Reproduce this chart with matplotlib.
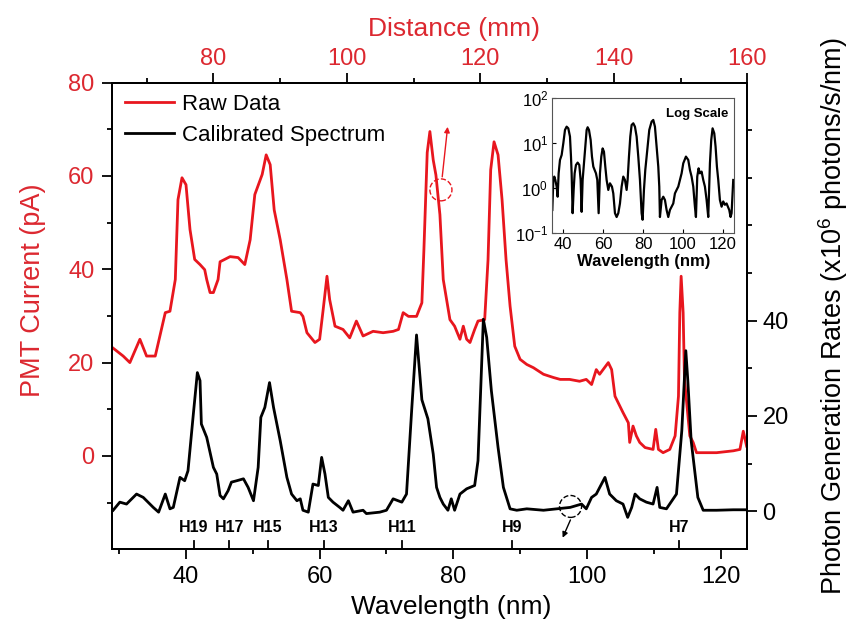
import matplotlib
matplotlib.use('Agg')
import matplotlib.pyplot as plt
from matplotlib.patches import Ellipse
from matplotlib.ticker import MultipleLocator, FixedLocator, NullLocator

plt.rcParams['font.family'] = ['Liberation Sans', 'DejaVu Sans']
plt.rcParams['mathtext.fontset'] = 'custom'
plt.rcParams['mathtext.rm'] = 'Liberation Sans'
plt.rcParams['mathtext.bf'] = 'Liberation Sans:bold'

# raw PMT current (pA) against wavelength (nm)
raw_wl = [29.0, 30.6, 31.6, 33.1, 34.1, 35.4, 36.9, 37.6, 38.4, 38.8, 39.4, 40.0,
          40.6, 41.3, 42.1, 42.8, 43.1, 43.6, 44.1, 44.8, 45.1, 46.6, 47.8, 48.8,
          49.6, 50.3, 51.4, 52.0, 52.6, 53.2, 54.1, 55.1, 55.8, 57.1, 57.5, 58.1,
          59.3, 60.0, 60.5, 61.1, 61.5, 62.3, 63.5, 64.5, 65.5, 66.5, 68.0, 69.5,
          71.0, 71.8, 72.5, 73.3, 74.5, 75.3, 75.6, 76.1, 76.5, 77.0, 77.4, 78.0,
          78.5, 79.5, 80.2, 81.0, 81.5, 82.0, 82.5, 83.2, 83.7, 84.7, 85.2, 85.6,
          86.1, 86.7, 87.3, 87.9, 88.5, 89.2, 90.0, 91.0, 92.0, 93.5, 95.0, 96.0,
          97.4, 98.9, 99.9, 100.7, 101.4, 101.9, 103.2, 103.7, 104.2, 105.4, 106.2, 106.4,
          106.9, 107.4, 107.9, 108.7, 109.9, 110.3, 110.7, 111.4, 112.4, 113.2, 113.7, 113.9,
          114.1, 114.4, 114.6, 115.4, 115.9, 116.4, 119.4, 121.9, 122.9, 123.4, 123.9]
raw_pa = [23.2, 21.4, 20.0, 25.0, 21.4, 21.4, 30.7, 31.0, 37.8, 54.9, 59.6, 58.1,
          48.5, 42.1, 41.0, 39.9, 37.8, 35.0, 35.0, 37.8, 41.6, 42.7, 42.5, 41.0,
          46.3, 56.0, 60.3, 64.5, 62.4, 52.7, 46.3, 37.8, 31.0, 30.7, 29.9, 26.4,
          24.3, 25.0, 31.0, 38.5, 33.5, 27.8, 27.1, 25.3, 28.9, 25.7, 26.7, 26.4,
          26.7, 27.1, 30.7, 29.9, 29.9, 32.8, 44.0, 65.0, 69.5, 63.4, 60.2, 51.7,
          37.8, 29.2, 27.8, 25.0, 27.8, 25.0, 24.3, 27.1, 28.9, 29.2, 42.0, 61.3,
          67.3, 64.5, 54.9, 42.0, 32.1, 23.5, 20.7, 19.6, 18.9, 17.5, 16.8, 16.4,
          16.4, 16.0, 16.4, 15.3, 18.5, 17.5, 20.0, 18.5, 12.8, 9.3, 7.1, 2.9,
          6.4, 4.3, 2.9, 1.8, 1.4, 5.7, 1.4, 0.7, 1.4, 4.3, 12.8, 30.7,
          38.5, 30.7, 16.4, 4.3, 2.9, 0.7, 0.7, 1.1, 1.4, 5.3, 2.1]

# calibrated photon generation rate (x10^6 photons/s/nm)
cal_wl = [29.1, 30.1, 31.1, 32.6, 33.6, 35.1, 35.9, 36.9, 37.6, 38.1, 39.1, 39.8,
          40.3, 41.1, 41.7, 42.1, 42.3, 43.1, 44.1, 44.6, 45.1, 45.6, 46.3, 46.8,
          47.6, 48.6, 49.3, 50.1, 50.8, 51.2, 51.8, 52.5, 53.1, 54.1, 55.1, 55.8,
          56.6, 57.1, 57.5, 58.3, 59.0, 59.8, 60.3, 60.8, 61.3, 62.0, 63.0, 63.5,
          64.3, 65.0, 66.5, 67.0, 69.0, 70.0, 71.0, 72.3, 73.0, 73.8, 74.5, 75.3,
          76.2, 77.0, 77.5, 78.0, 78.5, 79.2, 79.7, 80.2, 81.0, 82.0, 83.2, 83.7,
          84.5, 85.0, 85.7, 86.7, 87.5, 88.5, 89.5, 91.0, 93.5, 95.5, 97.5, 99.2,
          99.9, 100.7, 101.4, 102.7, 103.4, 104.4, 105.4, 106.1, 106.7, 107.2, 107.9, 108.9,
          109.9, 110.5, 110.9, 111.9, 113.4, 114.2, 114.8, 115.1, 115.6, 116.6, 117.4, 119.4,
          121.9, 123.9]
cal_rate = [0.2, 1.9, 1.5, 3.6, 2.9, 0.8, -0.2, 3.6, 0.5, 0.8, 7.1, 6.4,
            8.5, 20.4, 29.1, 27.4, 18.3, 15.5, 9.2, 7.8, 3.3, 2.6, 4.3, 6.1,
            6.4, 6.8, 5.0, 2.2, 9.2, 19.7, 21.8, 27.0, 21.8, 14.8, 7.1, 3.6,
            2.2, 2.6, 0.2, -0.2, 5.7, 5.4, 11.3, 7.8, 2.9, 1.9, 0.8, 0.2,
            2.2, -0.2, 0.2, -0.5, -0.2, 0.2, 2.6, 1.9, 3.6, 21.8, 37.0, 23.4,
            19.4, 12.0, 5.0, 2.9, 1.5, 0.2, 2.6, 0.2, 3.6, 4.7, 5.4, 10.6,
            40.3, 36.5, 25.3, 13.4, 5.0, 0.5, 0.2, 0.5, 0.2, 0.5, 0.8, 1.5,
            0.5, 2.9, 3.6, 7.1, 3.6, 2.2, 1.5, -1.3, 0.8, 3.6, 2.6, 1.9,
            1.5, 5.0, 0.8, 0.5, 3.6, 16.9, 33.7, 27.4, 14.8, 2.9, 0.2, 0.2,
            0.3, 0.3]

# same spectrum on a log scale (inset)
log_wl = [34.52, 35.02, 35.52, 36.02, 36.69, 37.19, 37.69, 38.36, 39.20, 40.03, 40.87, 41.70,
          42.53, 43.37, 43.87, 44.20, 44.70, 45.21, 45.71, 46.37, 47.21, 48.04, 48.71, 49.21,
          49.71, 50.38, 51.05, 51.72, 52.22, 52.89, 53.72, 54.39, 55.06, 55.72, 56.39, 57.06,
          57.73, 58.39, 59.06, 59.73, 60.40, 61.07, 61.73, 62.57, 63.40, 64.40, 65.07, 65.91,
          66.74, 67.58, 68.41, 69.25, 70.08, 70.92, 71.75, 72.25, 72.92, 73.59, 74.25, 75.09,
          75.92, 76.76, 77.59, 78.43, 79.26, 79.76, 80.43, 81.10, 81.77, 82.43, 83.10, 84.27,
          85.11, 85.94, 86.78, 87.61, 88.11, 88.44, 89.28, 90.11, 90.95, 91.78, 92.62, 93.45,
          94.29, 95.12, 95.96, 96.79, 97.63, 98.46, 99.30, 100.13, 101.47, 102.64, 103.47, 104.30,
          105.14, 105.97, 106.48, 107.14, 107.81, 108.48, 109.31, 110.15, 110.98, 111.82, 112.65, 113.49,
          114.15, 114.82, 115.66, 116.32, 116.99, 117.66, 118.49, 119.33, 120.16, 120.99, 121.83, 123.17,
          123.84, 124.34, 125.17]
log_rate = [0.33, 1.53, 1.82, 1.53, 1.09, 0.65, 2.15, 4.26, 5.5, 10.0, 19.8, 23.4,
            21.5, 14.1, 5.06, 2.15, 0.28, 0.92, 2.15, 3.30, 3.72, 3.30, 1.53, 0.30,
            1.53, 3.59, 8.4, 19.8, 22.7, 19.8, 11.9, 5.06, 3.03, 2.55, 2.15, 1.53,
            0.28, 2.15, 5.06, 7.7, 6.5, 3.03, 1.53, 0.92, 1.29, 1.09, 0.77, 0.28,
            0.23, 0.28, 0.46, 1.09, 1.82, 1.53, 0.92, 1.53, 5.06, 14.1, 25.5, 27.8,
            23.4, 14.1, 5.06, 1.53, 0.28, 0.20, 0.92, 2.55, 5.06, 10.0, 19.8, 30.3,
            33.0, 23.4, 8.4, 3.03, 1.09, 0.23, 0.55, 0.65, 0.55, 0.33, 0.23, 0.33,
            0.39, 0.46, 0.77, 0.92, 1.09, 1.53, 2.15, 3.59, 5.06, 4.26, 2.55, 1.82,
            1.09, 0.39, 0.23, 1.82, 2.78, 2.15, 2.35, 1.53, 1.09, 0.55, 0.23, 3.59,
            11.9, 21.5, 16.7, 8.4, 3.03, 1.53, 0.55, 0.39, 0.51, 0.43, 0.46, 0.33,
            0.23, 0.28, 1.53]

harmonics = ['H19', 'H17', 'H15', 'H13', 'H11', 'H9', 'H7']
harmonic_wl = [41.2, 46.5, 52.3, 60.6, 72.4, 88.8, 113.8]

RED = '#e8161e'
TXT_RED = '#dc2830'

fig = plt.figure(figsize=(8.49, 6.28), dpi=100)
ax = fig.add_axes([0.1325, 0.1253, 0.7477, 0.7433])
ax2 = ax.twinx()
ax3 = ax.twiny()

# raw current on the left axis
l_raw, = ax.plot(raw_wl, raw_pa, color=RED, lw=2.0)
ax.set_xlim(29, 124)
ax.set_ylim(-20, 80)
ax.xaxis.set_major_locator(MultipleLocator(20))
ax.xaxis.set_minor_locator(MultipleLocator(10))
ax.yaxis.set_major_locator(FixedLocator([0, 20, 40, 60, 80]))
ax.yaxis.set_minor_locator(FixedLocator([-10, 10, 30, 50, 70]))
ax.tick_params(which='both', direction='out', width=1.3, labelsize=17)
ax.tick_params(which='major', length=7)
ax.tick_params(which='minor', length=3.6)
ax.tick_params(axis='y', labelcolor=TXT_RED, pad=6)
ax.tick_params(axis='x', pad=5)
ax.set_xlabel('Wavelength (nm)', fontsize=19)
ax.xaxis.set_label_coords(0.533, -0.098)
ax.set_ylabel('PMT Current (pA)', fontsize=19.5, color=TXT_RED)
ax.yaxis.set_label_coords(-0.105, 0.555)

# calibrated spectrum on the right axis
l_cal, = ax2.plot(cal_wl, cal_rate, color='black', lw=2.0)
ax2.set_ylim(-8, 90)
ax2.yaxis.set_major_locator(FixedLocator([0, 20, 40]))
ax2.yaxis.set_minor_locator(FixedLocator([10, 30, 50, 60, 70, 80]))
ax2.tick_params(which='both', direction='out', width=1.3, labelsize=17, pad=4)
ax2.tick_params(which='major', length=7)
ax2.tick_params(which='minor', length=3.6)
ax2.set_ylabel('Photon Generation Rates (x10$^6$ photons/s/nm)', fontsize=19.5)
ax2.yaxis.set_label_coords(1.108, 0.5)

# distance scale on top
ax3.set_xlim(64.9, 160)
ax3.xaxis.set_major_locator(MultipleLocator(20))
ax3.xaxis.set_minor_locator(MultipleLocator(10))
ax3.tick_params(which='both', direction='out', width=1.3, labelsize=17,
                labelcolor=TXT_RED, pad=2)
ax3.tick_params(which='major', length=7)
ax3.tick_params(which='minor', length=3.6)
ax3.set_xlabel('Distance (mm)', fontsize=19, color=TXT_RED)
ax3.xaxis.set_label_coords(0.538, 1.099)

for a in (ax, ax2, ax3):
    for s in a.spines.values():
        s.set_linewidth(1.3)

# harmonic order markers along the bottom
xt = ax.get_xaxis_transform()
for name, wl in zip(harmonics, harmonic_wl):
    ax.plot([wl, wl], [0, 0.018], transform=xt, color='black', lw=1.3, clip_on=False)
    ax.text(wl, 0.03, name, transform=xt, ha='center', va='bottom',
            fontsize=11.5, fontweight='bold')

# highlighted regions with arrows
ax.add_patch(Ellipse((78.15, 57.0), 3.3, 4.7, fill=False, ls='--', lw=1.0, color=RED))
ax.annotate('', xy=(79.2, 71.1), xytext=(78.3, 59.2),
            arrowprops=dict(arrowstyle='-|>', color=RED, lw=1.0, mutation_scale=8))
ax2.add_patch(Ellipse((97.55, 1.0), 3.3, 4.6, fill=False, ls='--', lw=1.0, color='black'))
ax2.annotate('', xy=(96.2, -6.1), xytext=(97.7, -1.3),
             arrowprops=dict(arrowstyle='-|>', color='black', lw=1.0, mutation_scale=8))

ax2.legend([l_raw, l_cal], ['Raw Data', 'Calibrated Spectrum'], loc='upper left',
           bbox_to_anchor=(0.0197, 0.975), borderaxespad=0, borderpad=0,
           frameon=False, fontsize=16, handlelength=2.2, handletextpad=0.35,
           labelspacing=0.45)

# inset: log-scale spectrum
axin = fig.add_axes([0.6505, 0.6285, 0.2144, 0.215])
axin.semilogy(log_wl, log_rate, color='black', lw=1.6)
axin.set_xlim(34.5, 125.7)
axin.set_ylim(0.1, 100)
axin.xaxis.set_major_locator(MultipleLocator(20))
axin.xaxis.set_minor_locator(NullLocator())
axin.yaxis.set_minor_locator(NullLocator())
axin.tick_params(which='both', direction='in', length=3, width=0.8, labelsize=12, pad=3)
axin.set_xlabel('Wavelength (nm)', fontsize=12, fontweight='bold', labelpad=1)
axin.text(0.97, 0.93, 'Log Scale', transform=axin.transAxes, ha='right', va='top',
          fontsize=9.5, fontweight='bold')
for s in axin.spines.values():
    s.set_linewidth(0.8)
    s.set_color('#555555')

fig.savefig('out.png', dpi=100)
